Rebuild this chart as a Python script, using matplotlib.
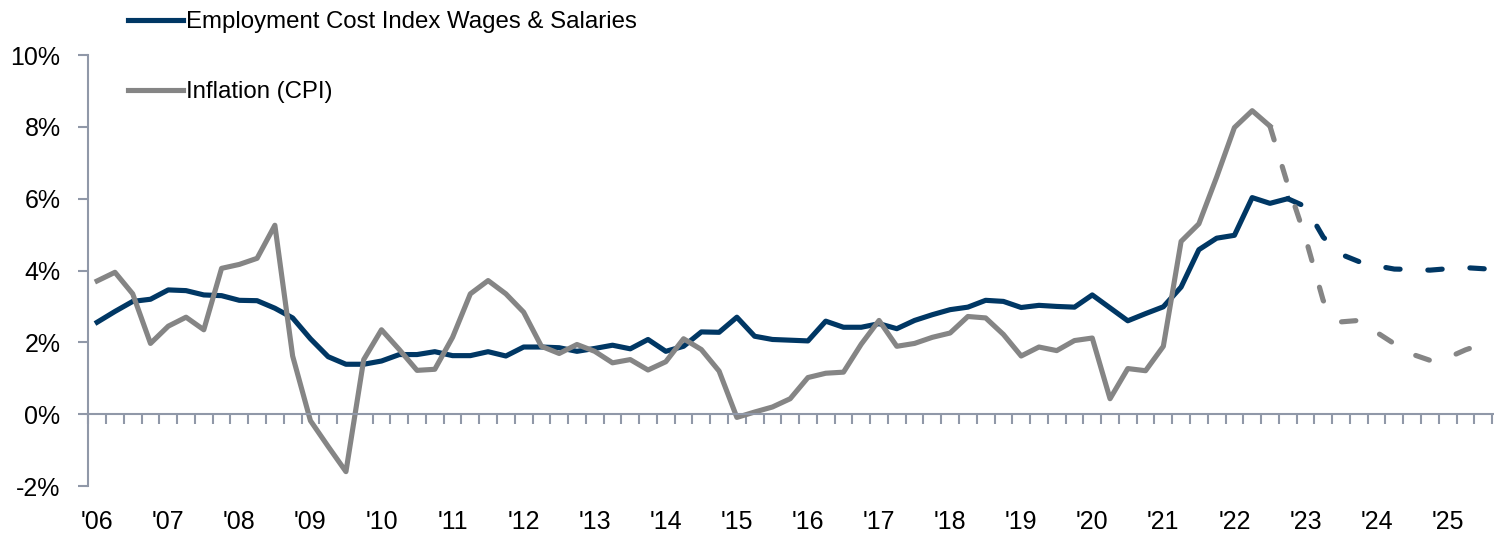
import numpy as np
import matplotlib.pyplot as plt
from matplotlib.ticker import FixedLocator, FuncFormatter

# quarterly, 2006 Q1 .. 2025 Q4 (year-over-year %, forecasts dashed)
years = list(range(2006, 2026))
eci = [2.56, 2.86, 3.14, 3.20, 3.46, 3.44, 3.32, 3.30, 3.17, 3.16,
       2.95, 2.68, 2.10, 1.60, 1.39, 1.39, 1.48, 1.66, 1.66, 1.74,
       1.63, 1.63, 1.74, 1.62, 1.87, 1.87, 1.85, 1.75, 1.83, 1.92,
       1.82, 2.08, 1.75, 1.89, 2.29, 2.28, 2.70, 2.17, 2.08, 2.06,
       2.04, 2.59, 2.42, 2.42, 2.52, 2.38, 2.61, 2.77, 2.91, 2.98,
       3.17, 3.14, 2.97, 3.03, 3.00, 2.98, 3.32, 2.96, 2.60, 2.80,
       2.99, 3.54, 4.58, 4.90, 4.98, 6.03, 5.87, 6.00, 5.78, 4.93,
       4.45, 4.25, 4.13, 4.04, 4.03, 4.01, 4.05, 4.08, 4.05, 4.02]
cpi = [3.71, 3.95, 3.35, 1.97, 2.45, 2.70, 2.35, 4.06, 4.17, 4.34,
       5.26, 1.62, -0.18, -0.90, -1.60, 1.52, 2.35, 1.80, 1.22, 1.25,
       2.14, 3.35, 3.72, 3.35, 2.84, 1.89, 1.69, 1.94, 1.75, 1.43,
       1.52, 1.23, 1.46, 2.10, 1.80, 1.20, -0.09, 0.06, 0.20, 0.43,
       1.02, 1.14, 1.17, 1.95, 2.61, 1.89, 1.97, 2.14, 2.26, 2.72,
       2.68, 2.22, 1.62, 1.87, 1.77, 2.05, 2.12, 0.43, 1.27, 1.21,
       1.89, 4.81, 5.30, 6.60, 7.98, 8.45, 8.02, 6.39, 4.91, 3.16,
       2.57, 2.61, 2.28, 1.96, 1.67, 1.50, 1.57, 1.79, 1.96, 2.11]
eci_last_actual = 67   # index of last reported quarter
cpi_last_actual = 66

navy = '#003764'
grey = '#858585'
axis_col = '#9098A8'

plt.rcParams['font.family'] = ['Liberation Sans', 'DejaVu Sans']

fig = plt.figure(figsize=(14.94, 5.42), dpi=100)
ax = fig.add_axes([0.0591, 0.1033, 0.9515, 0.7952])

x = np.arange(len(eci))
lw = 3.7
dash = (0, (2.8, 5.4))

ax.plot(x[:eci_last_actual + 1], eci[:eci_last_actual + 1], color=navy, lw=lw,
        solid_joinstyle='round', label='Employment Cost Index Wages & Salaries')
ax.plot(x[eci_last_actual:], eci[eci_last_actual:], color=navy, lw=lw,
        linestyle=dash, dash_capstyle='round')
ax.plot(x[:cpi_last_actual + 1], cpi[:cpi_last_actual + 1], color=grey, lw=lw,
        solid_joinstyle='round', label='Inflation (CPI)')
ax.plot(x[cpi_last_actual:], cpi[cpi_last_actual:], color=grey, lw=lw,
        linestyle=dash, dash_capstyle='round')

ax.set_xlim(-0.5, len(eci) - 0.5)
ax.set_ylim(-2, 10)

for s in ['top', 'right']:
    ax.spines[s].set_visible(False)
ax.spines['bottom'].set_position(('data', 0))
for s in ['left', 'bottom']:
    ax.spines[s].set_color(axis_col)
    ax.spines[s].set_linewidth(1.5)

ax.set_yticks(range(-2, 11, 2))
ax.yaxis.set_major_formatter(FuncFormatter(lambda v, p: f'{v:.0f}%'))
ax.tick_params(axis='y', length=7, width=1.5, color=axis_col, pad=13,
               labelsize=18)

ax.xaxis.set_major_locator(FixedLocator([4 * k for k in range(len(years))]))
ax.set_xticklabels([f"'{y % 100:02d}" for y in years])
ax.xaxis.set_minor_locator(FixedLocator(np.arange(-0.5, len(eci), 1)))
ax.tick_params(axis='x', which='major', length=0, pad=69, labelsize=18)
ax.tick_params(axis='x', which='minor', length=7.5, width=1.5, color=axis_col)

fig.legend(loc='upper left', bbox_to_anchor=(128 / 1494, 1 - 11 / 542),
           frameon=False, fontsize=17.3, handlelength=2.3, handletextpad=0.1,
           labelspacing=2.0, borderpad=0, borderaxespad=0)

fig.savefig('out.png', dpi=100)
